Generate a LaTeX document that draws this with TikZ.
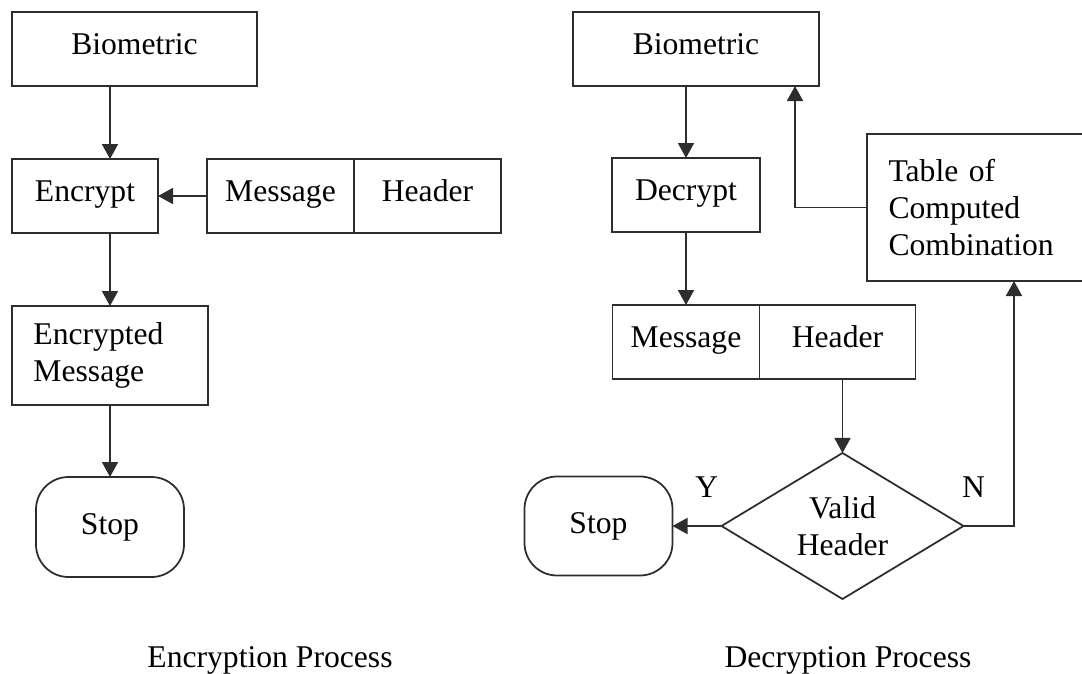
\documentclass[tikz,border=0pt]{standalone}
\usepackage{fontspec}
\setmainfont{Liberation Serif}
\usepackage{tikz}
\usetikzlibrary{arrows.meta,positioning,shapes.geometric}
\definecolor{flowline}{RGB}{45,45,45}

\begin{document}
\begin{tikzpicture}[
    every node/.style={font=\fontsize{18}{21}\selectfont, align=center},
    procbox/.style={rectangle, draw=flowline, line width=1pt, inner sep=0pt, outer sep=0pt},
    cellbox/.style={procbox, text height=0.88em, text depth=0.2em, minimum height=1.48cm},
    textbox/.style={procbox, align=left, inner xsep=0.43cm},
    stopbox/.style={procbox, rounded corners=0.65cm, minimum width=2.96cm, minimum height=2.0cm},
    decision/.style={diamond, draw=flowline, line width=1pt, inner sep=0pt, outer sep=0pt, aspect=1.66, minimum width=4.84cm, minimum height=2.92cm},
    arr/.style={-{Triangle[length=0.3cm, width=0.32cm]}, line width=1pt, draw=flowline}
]
\useasboundingbox (0,0) rectangle (21.64,-13.48);

% encryption side
\node[cellbox, minimum width=4.90cm, anchor=north west] (bio1) at (0.24,-0.24) {Biometric};
\node[cellbox, minimum width=2.92cm, below=1.46cm of bio1.south west, anchor=north west] (enc) {Encrypt};
\node[cellbox, minimum width=2.94cm, right=0.98cm of enc] (msg1) {Message};
\node[cellbox, minimum width=2.94cm, right=0pt of msg1] (hdr1) {Header};
\node[textbox, text width=3.06cm, minimum height=1.98cm, below=1.46cm of enc.south west, anchor=north west] (encmsg) {Encrypted\\Message};
\node[stopbox, below=1.44cm of encmsg] (stop1) {Stop};

\draw[arr] (bio1.south -| encmsg) -- (enc.north -| encmsg);
\draw[arr] (msg1.west) -- (enc.east);
\draw[arr] (enc.south -| encmsg) -- (encmsg.north);
\draw[arr] (encmsg) -- (stop1);

% decryption side
\node[cellbox, minimum width=4.92cm, anchor=north west] (bio2) at (11.46,-0.24) {Biometric};
\node[cellbox, minimum width=2.96cm] (dec) at (13.72,-3.90) {Decrypt};
\node[textbox, text width=5.02cm, minimum height=2.94cm] (table) at (20.28,-4.15) {Table of\\Computed\\Combination};
\node[cellbox, minimum width=2.94cm, below=1.46cm of dec] (msg2) {Message};
\node[cellbox, minimum width=3.12cm, right=0pt of msg2] (hdr2) {Header};
\node[decision, below=1.48cm of hdr2, xshift=0.1cm] (valid) {Valid\\Header};
\node[stopbox, minimum height=1.98cm, left=0.98cm of valid] (stop2) {Stop};

\draw[arr] (bio2.south -| dec) -- (dec);
\draw[arr] (dec) -- (msg2);
\draw[arr] (hdr2.south -| valid) -- (valid);
\draw[arr] (valid) -- node[pos=0.3, above=0.44cm] {Y} (stop2);
\draw[arr] (valid.east) -| node[pos=0.1, above=0.44cm] {N} (table);
\draw[arr] (table.west) -| ([xshift=-0.48cm]bio2.south east);

% captions
\node[anchor=base] (enccap) at (5.40,-13.34) {Encryption Process};
\node[anchor=base] (deccap) at (16.96,-13.34) {Decryption Process};

\end{tikzpicture}
\end{document}
